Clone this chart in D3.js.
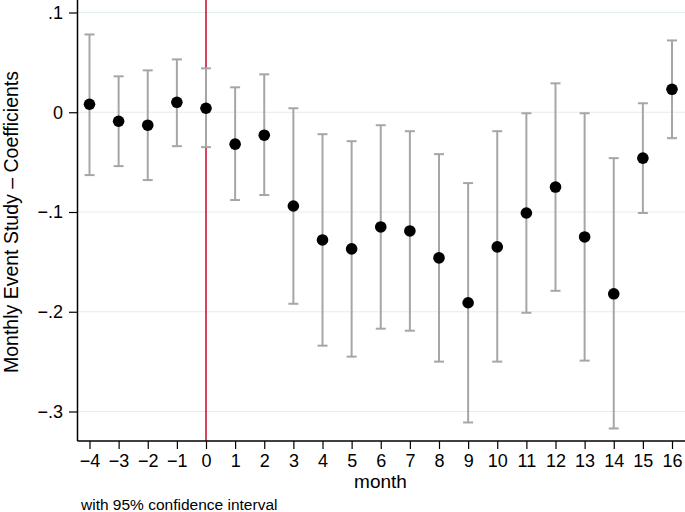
<!DOCTYPE html>
<html><head><meta charset="utf-8">
<script src="https://cdn.jsdelivr.net/npm/d3@7"></script>
<style>body{margin:0;background:#fff}svg{display:block}text{font-family:"Liberation Sans",Arial,sans-serif}</style>
</head><body>
<script>
const months = [-4,-3,-2,-1,0,1,2,3,4,5,6,7,8,9,10,11,12,13,14,15,16];
const coef  = [0.008,-0.009,-0.013,0.010,0.004,-0.032,-0.023,-0.094,-0.128,-0.137,-0.115,-0.119,-0.146,-0.191,-0.135,-0.101,-0.075,-0.125,-0.182,-0.046,0.023];
const lower = [-0.063,-0.054,-0.068,-0.034,-0.035,-0.088,-0.083,-0.192,-0.234,-0.245,-0.217,-0.219,-0.250,-0.311,-0.250,-0.201,-0.179,-0.249,-0.317,-0.101,-0.026];
const upper = [0.078,0.036,0.042,0.053,0.044,0.025,0.038,0.004,-0.022,-0.029,-0.013,-0.019,-0.042,-0.071,-0.019,-0.001,0.029,-0.001,-0.046,0.009,0.072];
const yTicks = [0.1,0,-0.1,-0.2,-0.3];
const yTickLabels = [".1","0","-.1","-.2","-.3"];

(function(){
const W=685,H=512;
const svg=d3.select("body").append("svg").attr("width",W).attr("height",H);
const pl=77.5, pr=685, pt=0, pb=441;
const x=d3.scaleLinear().domain([-4,16]).range([89.5,672]);
const y=d3.scaleLinear().domain([0.1,-0.3]).range([12.5,411.5]);

svg.append("g").selectAll("line").data(yTicks).join("line")
  .attr("x1",pl).attr("x2",pr).attr("y1",d=>y(d)).attr("y2",d=>y(d))
  .attr("stroke","#e4eded").attr("stroke-width",1.2);

svg.append("line").attr("x1",x(0)).attr("x2",x(0)).attr("y1",pt).attr("y2",pb)
  .attr("stroke","#cc1638").attr("stroke-width",1.6);

const data=months.map((m,i)=>({m,c:coef[i],lo:lower[i],hi:upper[i]}));
const eb=svg.append("g").attr("stroke","#a6a6a6").attr("stroke-width",2);
eb.selectAll(".v").data(data).join("line").attr("x1",d=>x(d.m)).attr("x2",d=>x(d.m)).attr("y1",d=>y(d.lo)).attr("y2",d=>y(d.hi));
eb.selectAll(".t").data(data).join("line").attr("x1",d=>x(d.m)-5).attr("x2",d=>x(d.m)+5).attr("y1",d=>y(d.hi)).attr("y2",d=>y(d.hi));
eb.selectAll(".b").data(data).join("line").attr("x1",d=>x(d.m)-5).attr("x2",d=>x(d.m)+5).attr("y1",d=>y(d.lo)).attr("y2",d=>y(d.lo));

svg.append("g").selectAll("circle").data(data).join("circle")
  .attr("cx",d=>x(d.m)).attr("cy",d=>y(d.c)).attr("r",5.8).attr("fill","#000");

const yAxis=d3.axisLeft(y).tickValues(yTicks).tickFormat((d,i)=>yTickLabels[i].replace("-","\u2212")).tickSize(8.5).tickPadding(6);
const gy=svg.append("g").attr("transform",`translate(${pl},0)`).call(yAxis);
gy.select(".domain").attr("d",`M0,${pt}V${pb}`).attr("stroke","#000").attr("stroke-width",1.5);
gy.selectAll(".tick line").attr("stroke","#000").attr("stroke-width",1.2);
gy.selectAll("text").attr("font-size",18).attr("fill","#000");

const xAxis=d3.axisBottom(x).tickValues(months).tickFormat(d=>String(d).replace("-","\u2212")).tickSize(8).tickPadding(5);
const gx=svg.append("g").attr("transform",`translate(0,${pb})`).call(xAxis);
gx.select(".domain").attr("d",`M${pl},0H${pr}`).attr("stroke","#000").attr("stroke-width",1.5);
gx.selectAll(".tick line").attr("stroke","#000").attr("stroke-width",1.2);
gx.selectAll("text").attr("font-size",18).attr("fill","#000");

svg.append("text").attr("x",380.5).attr("y",488).attr("text-anchor","middle").attr("font-size",19).text("month");
svg.append("text").attr("transform",`translate(17.5,222) rotate(-90)`).attr("text-anchor","middle").attr("font-size",19.5).text("Monthly Event Study \u2013 Coefficients");
svg.append("text").attr("x",81).attr("y",510).attr("font-size",15.5).text("with 95% confidence interval");
})();
</script>
</body></html>
